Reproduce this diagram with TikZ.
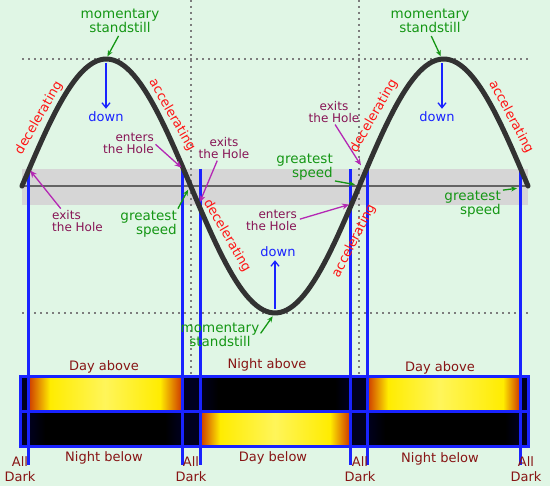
\documentclass[tikz,border=0pt]{standalone}
\usepackage{fontspec}
\setmainfont{DejaVu Sans}
\usepackage{xcolor}
\definecolor{bgcolor}{RGB}{224,246,229}
\definecolor{holeband}{RGB}{214,214,214}
\definecolor{axisgray}{RGB}{100,100,100}
\definecolor{dotgray}{RGB}{125,125,125}
\definecolor{curvecolor}{RGB}{50,50,50}
\definecolor{wireblue}{RGB}{25,35,255}
\definecolor{speedgreen}{RGB}{20,150,20}
\definecolor{motionred}{RGB}{255,20,20}
\definecolor{holepurple}{RGB}{135,20,85}
\definecolor{holearrow}{RGB}{180,40,180}
\definecolor{labelred}{RGB}{135,20,20}
\definecolor{dayyellow}{RGB}{255,236,0}
\definecolor{daylight}{RGB}{255,245,90}
\definecolor{dayedge}{RGB}{205,55,0}
\definecolor{darknavy}{RGB}{0,0,32}
\usepackage{tikz}
\usetikzlibrary{arrows.meta,positioning}

\begin{document}
\begin{tikzpicture}[x=1pt,y=-1pt,
  every node/.style={font=\fontsize{13}{14.5}\selectfont,inner sep=0pt,align=center},
  greenlbl/.style={text=speedgreen,font=\fontsize{13.5}{14.5}\selectfont},
  motionlbl/.style={text=motionred},
  holelbl/.style={text=holepurple,font=\fontsize{12}{12}\selectfont},
  downlbl/.style={text=wireblue},
  barlbl/.style={text=labelred},
  dotline/.style={dotgray,line width=2pt,dash pattern=on 2pt off 4pt},
  wire/.style={wireblue,line width=3pt},
  holearr/.style={holearrow,line width=1.3pt,-{Stealth[length=7pt,width=6pt]}},
  greenarr/.style={speedgreen,line width=1.3pt,-{Stealth[length=6pt,width=5pt]}},
  downarr/.style={wireblue,line width=1.3pt,-{Straight Barb[length=5pt,width=8pt]}}]

  % background
  \fill[bgcolor] (0,0) rectangle (550,486);
  \useasboundingbox (0,0) rectangle (550,486);

  % the Hole band and axis
  \fill[holeband] (22,169) rectangle (528,205);
  \draw[axisgray,line width=2pt] (22,186) -- (528,186);

  % dotted guides
  \draw[dotline] (22,59) -- (528,59);
  \draw[dotline] (22,313) -- (528,313);
  \draw[dotline] (191,0) -- (191,376);
  \draw[dotline] (359,0) -- (359,376);

  % points on the curve
  \coordinate (peakA) at (106,59);
  \coordinate (peakB) at (442,59);
  \coordinate (troughC) at (275,313);
  \coordinate (holeA) at (29,169);
  \coordinate (holeB) at (183,169);
  \coordinate (holeC) at (199,204);
  \coordinate (holeD) at (351,204);
  \coordinate (holeE) at (362,167);
  \coordinate (fastA) at (189,188);
  \coordinate (fastB) at (357,185);
  \coordinate (fastC) at (519,188);

  % blue lines down to the bars
  \foreach \xw in {28,182,200,350,367,520}
    \draw[wire] (\xw,169) -- (\xw,465);

  % the swing
  \draw[curvecolor,line width=5pt,line cap=round]
    plot[domain=22:528,samples=150] (\x,{186-127*sin((\x-22)*1.06719)});

  % bars
  \foreach \xa/\xb/\ca/\cb in {20/28/darknavy/darknavy,28/50/dayedge/dayyellow,
      50/105/dayyellow/daylight,105/160/daylight/dayyellow,160/182/dayyellow/dayedge,
      182/200/darknavy/darknavy,200/218/darknavy/black,218/335/black/black,
      335/350/black/darknavy,350/367/darknavy/darknavy,367/388/dayedge/dayyellow,
      388/440/dayyellow/daylight,440/503/daylight/dayyellow,503/520/dayyellow/dayedge,
      520/528/darknavy/darknavy}
    \shade[left color=\ca,right color=\cb] (\xa,377) rectangle (\xb,412);
  \foreach \xa/\xb/\ca/\cb in {20/28/darknavy/darknavy,28/45/darknavy/black,
      45/165/black/black,165/182/black/darknavy,182/200/darknavy/darknavy,
      200/220/dayedge/dayyellow,220/275/dayyellow/daylight,275/330/daylight/dayyellow,
      330/350/dayyellow/dayedge,350/367/darknavy/darknavy,367/385/darknavy/black,
      385/505/black/black,505/520/black/darknavy,520/528/darknavy/darknavy}
    \shade[left color=\ca,right color=\cb] (\xa,412) rectangle (\xb,447);
  \draw[wire] (20,377) rectangle (528,447);
  \draw[wire] (20,412) -- (528,412);
  \foreach \xw in {28,182,200,350,367,520}
    \draw[wire] (\xw,377) -- (\xw,447);

  % standstill and down
  \node[greenlbl] (standA) at (120,21) {momentary\\standstill};
  \node[greenlbl] (standB) at (430,21) {momentary\\standstill};
  \node[greenlbl] (standC) at (220,335) {momentary\\standstill};
  \node[downlbl] (downA) at (106,117) {down};
  \node[downlbl] (downB) at (437,117) {down};
  \node[downlbl] (downC) at (278,252) {down};

  % accelerating / decelerating
  \node[motionlbl,rotate=60] (decA) at (39,118) {decelerating};
  \node[motionlbl,rotate=-60] (accA) at (172,115) {accelerating};
  \node[motionlbl,rotate=-60] (decB) at (227,236) {decelerating};
  \node[motionlbl,rotate=63] (accB) at (354,241) {accelerating};
  \node[motionlbl,rotate=60] (decC) at (374,116) {decelerating};
  \node[motionlbl,rotate=-62] (accC) at (511,117) {accelerating};

  % enters / exits the Hole
  \node[holelbl,align=left,anchor=west] (exitsA) at (52,221) {exits\\the Hole};
  \node[holelbl,align=right,anchor=east] (entersA) at (154,143) {enters\\the Hole};
  \node[holelbl] (exitsB) at (224,148) {exits\\the Hole};
  \node[holelbl,align=right,anchor=east] (entersB) at (297,220) {enters\\the Hole};
  \node[holelbl] (exitsC) at (334,112) {exits\\the Hole};

  % greatest speed
  \node[greenlbl,align=right,anchor=east] (speedA) at (177,224) {greatest\\speed};
  \node[greenlbl,align=right,anchor=east] (speedB) at (333,167) {greatest\\speed};
  \node[greenlbl,align=right,anchor=east] (speedC) at (501,204) {greatest\\speed};

  % bar labels
  \node[barlbl] (dayA) at (104,367) {Day above};
  \node[barlbl] (nightA) at (267,365) {Night above};
  \node[barlbl] (dayB) at (440,368) {Day above};
  \node[barlbl] (nightB) at (104,458) {Night below};
  \node[barlbl] (dayC) at (273,458) {Day below};
  \node[barlbl] (nightC) at (440,459) {Night below};
  \node[barlbl] (darkA) at (20,469) {All\\Dark};
  \node[barlbl] (darkB) at (191,469) {All\\Dark};
  \node[barlbl] (darkC) at (360,469) {All\\Dark};
  \node[barlbl] (darkD) at (526,469) {All\\Dark};

  % arrows
  \draw[greenarr,shorten <=3pt,shorten >=3pt] (standA.south) -- (peakA);
  \draw[greenarr,shorten <=3pt,shorten >=3pt] (standB.south) -- (peakB);
  \draw[greenarr,shorten <=2pt,shorten >=4pt] (standC.east) -- (troughC);
  \draw[downarr,shorten <=4pt,shorten >=3pt] (peakA) -- (downA.north);
  \draw[downarr,shorten <=4pt,shorten >=3pt] (peakB) -- (downB.north -| peakB);
  \draw[downarr,shorten <=4pt,shorten >=3pt] (troughC) -- (downC.south -| troughC);
  \draw[holearr,shorten <=2pt,shorten >=2pt] ([xshift=10pt]exitsA.north west) -- (holeA);
  \draw[holearr,shorten <=2pt,shorten >=2pt] (entersA.east) -- (holeB);
  \draw[holearr,shorten <=2pt,shorten >=2pt] ([xshift=-6pt]exitsB.south) -- (holeC);
  \draw[holearr,shorten <=3pt,shorten >=2pt] (entersB.east) -- (holeD);
  \draw[holearr,shorten <=2pt,shorten >=2pt] (exitsC.south) -- (holeE);
  \draw[greenarr,shorten <=2pt,shorten >=2pt] (speedA.north east) -- (fastA);
  \draw[greenarr,shorten <=2pt,shorten >=2pt] (speedB.south east) -- (fastB);
  \draw[greenarr,shorten <=2pt,shorten >=2pt] (speedC.north east) -- (fastC);
\end{tikzpicture}
\end{document}
